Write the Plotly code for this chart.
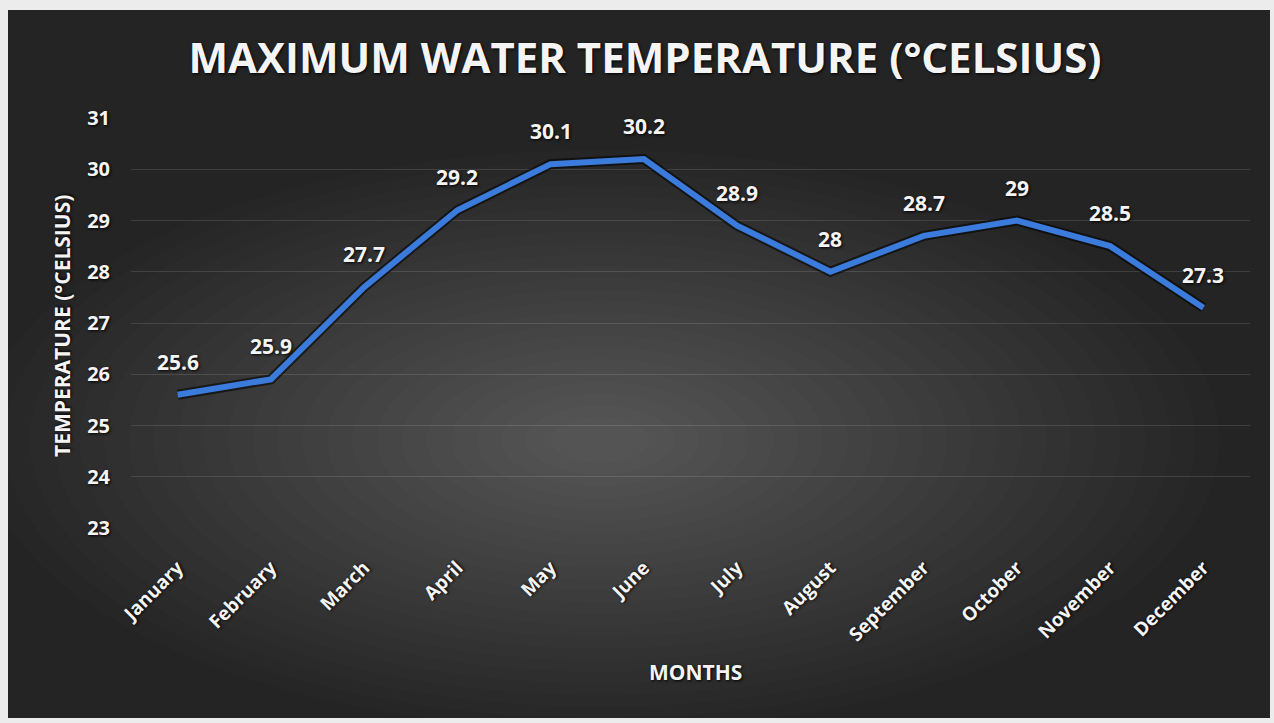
import plotly.graph_objects as go

# Datos: temperatura máxima del agua por mes
months = [
    "January", "February", "March", "April", "May", "June",
    "July", "August", "September", "October", "November", "December",
]
max_temp = [25.6, 25.9, 27.7, 29.2, 30.1, 30.2, 28.9, 28.0, 28.7, 29.0, 28.5, 27.3]
temp_labels = ["25.6", "25.9", "27.7", "29.2", "30.1", "30.2", "28.9", "28", "28.7", "29", "28.5", "27.3"]
y_ticks = [23, 24, 25, 26, 27, 28, 29, 30, 31]

FONT = "'Open Sans', Lato, sans-serif"
WHITE = "#f4f4f4"
SHADOW = "1px 1px 3px #000"

# área de trazado en píxeles (para pasar a coordenadas paper)
PL, PR, PT, PB = 131, 1250, 118, 528


def px_x(px: float) -> float:
    return (px - PL) / (PR - PL)


def px_y(py: float) -> float:
    return (PB - py) / (PB - PT)


def font(size: int) -> dict:
    return {"family": FONT, "size": size, "color": WHITE, "weight": "bold", "shadow": SHADOW}


fig = go.Figure()

# sombra oscura de la línea
fig.add_trace(
    go.Scatter(
        x=months,
        y=max_temp,
        mode="lines",
        line={"color": "rgba(0,0,0,0.55)", "width": 10},
        hoverinfo="skip",
        showlegend=False,
    )
)
fig.add_trace(
    go.Scatter(
        x=months,
        y=max_temp,
        mode="lines",
        line={"color": "#3a7bdc", "width": 6},
        name="Max temp",
        showlegend=False,
    )
)

annotations = [
    {"x": m, "y": v, "text": t, "showarrow": False, "yshift": 33, "font": font(21)}
    for m, v, t in zip(months, max_temp, temp_labels)
]
annotations += [
    {
        "text": "TEMPERATURE (°CELSIUS)",
        "xref": "paper",
        "yref": "paper",
        "x": px_x(62),
        "y": px_y(326),
        "xanchor": "center",
        "yanchor": "middle",
        "textangle": -90,
        "showarrow": False,
        "font": font(21),
    },
    {
        "text": "MONTHS",
        "xref": "paper",
        "yref": "paper",
        "x": px_x(695),
        "y": px_y(672),
        "xanchor": "center",
        "yanchor": "middle",
        "showarrow": False,
        "font": font(21),
    },
]

# fondo oscuro con viñeta (elipses translúcidas concéntricas)
shapes = [
    {
        "type": "rect",
        "xref": "paper",
        "yref": "paper",
        "x0": px_x(8),
        "x1": px_x(1270),
        "y0": px_y(718),
        "y1": px_y(10),
        "fillcolor": "#242424",
        "line": {"width": 0},
        "layer": "below",
    }
]
cx, cy, rx, ry = 600, 440, 620, 290
for i in range(24):
    s = 1 - i * 0.04
    shapes.append(
        {
            "type": "circle",
            "xref": "paper",
            "yref": "paper",
            "x0": px_x(cx - rx * s),
            "x1": px_x(cx + rx * s),
            "y0": px_y(cy + ry * s),
            "y1": px_y(cy - ry * s),
            "fillcolor": "rgba(255,255,255,0.012)",
            "line": {"width": 0},
            "layer": "below",
        }
    )

fig.update_layout(
    width=1274,
    height=723,
    margin={"l": PL, "r": 1274 - PR, "t": PT, "b": 723 - PB},
    paper_bgcolor="#ececec",
    plot_bgcolor="rgba(0,0,0,0)",
    title={
        "text": "MAXIMUM WATER TEMPERATURE (°CELSIUS)",
        "xref": "container",
        "yref": "container",
        "x": 645 / 1274,
        "y": 1 - 58 / 723,
        "xanchor": "center",
        "yanchor": "middle",
        "font": font(42),
    },
    xaxis={
        "range": [-0.5, 11.5],
        "tickangle": -45,
        "showgrid": False,
        "showline": False,
        "ticks": "",
        "ticklabelstandoff": 24,
        "tickfont": font(19),
    },
    yaxis={
        "range": [23, 31],
        "tickvals": y_ticks,
        "showgrid": True,
        "gridcolor": "rgba(255,255,255,0.12)",
        "gridwidth": 1,
        "zeroline": False,
        "showline": False,
        "ticks": "",
        "ticklabelstandoff": 20,
        "tickfont": font(20),
    },
    shapes=shapes,
    annotations=annotations,
    showlegend=False,
)

fig.write_html(
    "out.html",
    config={"displayModeBar": False},
    post_script="document.body.style.margin = '0';",
)
